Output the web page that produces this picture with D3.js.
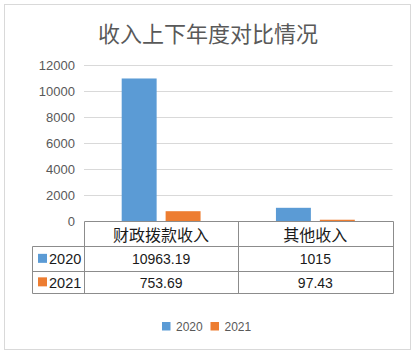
<!DOCTYPE html>
<html><head><meta charset="utf-8">
<script src="https://cdn.jsdelivr.net/npm/d3@7"></script>
<style>html,body{margin:0;padding:0;background:#fff;}svg{display:block;}</style>
</head><body>
<script>
const title = "收入上下年度对比情况";
const categories = ["财政拨款收入", "其他收入"];
const seriesNames = ["2020", "2021"];
const values2020 = [10963.19, 1015];
const values2021 = [753.69, 97.43];
const valueLabels2020 = ["10963.19", "1015"];
const valueLabels2021 = ["753.69", "97.43"];
const yTicks = [0, 2000, 4000, 6000, 8000, 10000, 12000];
const colors = ["#5b9bd5", "#ed7d31"];

const series = [
  {name: seriesNames[0], values: values2020, labels: valueLabels2020, color: colors[0]},
  {name: seriesNames[1], values: values2021, labels: valueLabels2021, color: colors[1]}
];

(function(){
const W = 416, H = 355;
const svg = d3.select("body").append("svg").attr("width", W).attr("height", H);
const latin = "'Liberation Sans', Arial, sans-serif";
const cjk = "'Noto Sans CJK SC', 'Liberation Sans', sans-serif";

svg.append("rect").attr("x", 4.5).attr("y", 4.5).attr("width", 406).attr("height", 345)
  .attr("fill", "#fff").attr("stroke", "#d9d9d9");

svg.append("text").attr("x", 208).attr("y", 32).attr("text-anchor", "middle")
  .attr("dominant-baseline", "central").attr("font-family", cjk).attr("font-size", 22)
  .attr("fill", "#595959").text(title);

const pLeft = 84, pRight = 392.5, pTop = 65, zero = 221;
const y = d3.scaleLinear().domain([0, 12000]).range([zero, pTop]);
const x0 = d3.scaleBand().domain(categories).range([pLeft, pRight]).padding(0);
const x1 = d3.scaleBand().domain(seriesNames).range([0, x0.bandwidth()])
  .paddingInner(0.2045).paddingOuter(0.858);

svg.append("g").selectAll("line").data(yTicks.filter(d => d > 0)).join("line")
  .attr("x1", pLeft).attr("x2", pRight)
  .attr("y1", d => Math.round(y(d)) + 0.5).attr("y2", d => Math.round(y(d)) + 0.5)
  .attr("stroke", "#d9d9d9").attr("stroke-width", 1);

const yAxis = d3.axisLeft(y).tickValues(yTicks).tickSize(0).tickPadding(0).tickFormat(d3.format("d"));
const ga = svg.append("g").attr("transform", `translate(75,0)`).call(yAxis);
ga.select(".domain").remove();
ga.selectAll("text").attr("font-family", latin).attr("font-size", 13).attr("fill", "#595959");

const groups = svg.append("g").selectAll("g").data(categories).join("g")
  .attr("transform", d => `translate(${x0(d)},0)`);
groups.selectAll("rect").data((c, i) => series.map(s => ({s: s.name, v: s.values[i], color: s.color})))
  .join("rect")
  .attr("x", d => x1(d.s)).attr("width", x1.bandwidth())
  .attr("y", d => y(d.v)).attr("height", d => zero - y(d.v))
  .attr("fill", d => d.color);

const rowH = [zero, 245.7, 271, 292.7];
const tableLeft = 31.7;
const lineColor = "#8c8c8c";
const tl = svg.append("g").attr("stroke", lineColor).attr("stroke-width", 1).attr("fill", "none");
const px = v => Math.round(v) + 0.5;
tl.append("line").attr("x1", px(pLeft)).attr("x2", px(pRight)).attr("y1", px(rowH[0])).attr("y2", px(rowH[0]));
[rowH[1], rowH[2], rowH[3]].forEach(yy => {
  tl.append("line").attr("x1", px(tableLeft)).attr("x2", px(pRight)).attr("y1", px(yy)).attr("y2", px(yy));
});
tl.append("line").attr("x1", px(tableLeft)).attr("x2", px(tableLeft)).attr("y1", px(rowH[1])).attr("y2", px(rowH[3]));
const vx = [pLeft, x0(categories[1]), pRight];
vx.forEach(xx => {
  tl.append("line").attr("x1", px(xx)).attr("x2", px(xx)).attr("y1", px(rowH[0])).attr("y2", px(rowH[3]));
});

svg.append("g").selectAll("text").data(categories).join("text")
  .attr("x", d => x0(d) + x0.bandwidth() / 2).attr("y", (rowH[0] + rowH[1]) / 2 + 1)
  .attr("text-anchor", "middle").attr("dominant-baseline", "central")
  .attr("font-family", cjk).attr("font-size", 16).attr("fill", "#1a1a1a").text(d => d);

series.forEach((s, r) => {
  const cy = (rowH[r + 1] + rowH[r + 2]) / 2;
  svg.append("rect").attr("x", 38).attr("y", cy - 4.5).attr("width", 9).attr("height", 9).attr("fill", s.color);
  svg.append("text").attr("x", 49).attr("y", cy + 1).attr("dominant-baseline", "central")
    .attr("font-family", latin).attr("font-size", 14.5).attr("fill", "#1a1a1a").text(s.name);
  svg.append("g").selectAll("text").data(categories).join("text")
    .attr("x", d => x0(d) + x0.bandwidth() / 2).attr("y", cy + 1)
    .attr("text-anchor", "middle").attr("dominant-baseline", "central")
    .attr("font-family", latin).attr("font-size", 14).attr("fill", "#1a1a1a")
    .text((d, i) => s.labels[i]);
});

const legendX = [162, 210.5];
series.forEach((s, i) => {
  svg.append("rect").attr("x", legendX[i]).attr("y", 322).attr("width", 8.5).attr("height", 8.5).attr("fill", s.color);
  svg.append("text").attr("x", legendX[i] + 14).attr("y", 326.5).attr("dominant-baseline", "central")
    .attr("font-family", latin).attr("font-size", 12).attr("fill", "#595959").text(s.name);
});
})();
</script>
</body></html>
